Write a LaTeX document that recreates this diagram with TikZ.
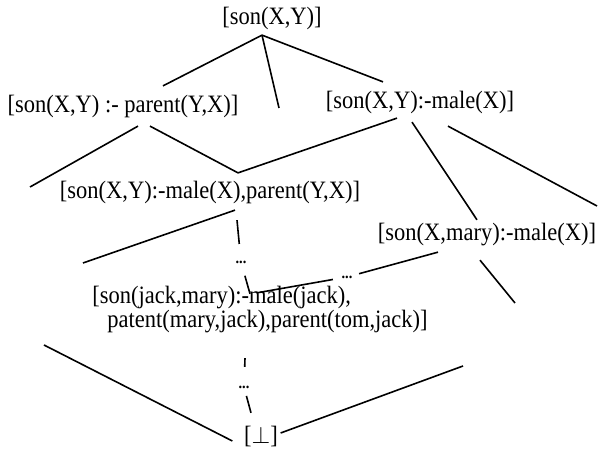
\documentclass[tikz,border=0pt]{standalone}
\usepackage{fontspec}
\setmainfont{Liberation Serif}[FakeStretch=0.9]
\usetikzlibrary{arrows}
\newcommand{\clauses}[1]{[#1]}

\begin{document}
\begin{tikzpicture}[x=0.5pt, y=-0.5pt, line width=0.8pt,
    term/.style={inner sep=1pt, font=\fontsize{12.5}{12}\selectfont},
    dots/.style={inner sep=1pt, font=\fontsize{8}{8}\selectfont\bfseries}]
      \useasboundingbox (0,0) rectangle (601,454);

      \node at (272,18) [term, name=top] {\clauses{son(X,Y)}};
      \node at (123,106) [term, name=lone] {\clauses{son(X,Y) :- parent(Y,X)}};
      \node at (420,102) [term, name=rone] {\clauses{son(X,Y):-male(X)}};
      \node at (210,192) [term, name=mid] {\clauses{son(X,Y):-male(X),parent(Y,X)}};
      \node at (487,235) [term, name=mary] {\clauses{son(X,mary):-male(X)}};
      \node at (260,310) [term, name=jack, align=left]
      {[son(jack,mary):-male(jack),\\\hspace{0.6em}patent(mary,jack),parent(tom,jack)]};
      \node at (261,437) [term, name=bot] {\clauses{$\bot$}};

      \node at (241,262) [dots, name=dotsa] {...};
      \node at (347,277) [dots, name=dotsb] {...};
      \node at (244,387) [dots, name=dotsc] {...};

      \coordinate (tm) at (279,108);
      \coordinate (ll) at (30,187);
      \coordinate (rr) at (597,206);
      \coordinate (ml) at (83,263);
      \coordinate (mr) at (515,303);
      \coordinate (bl) at (44,345);
      \coordinate (br) at (463,366);

      \draw ([xshift=-5pt,yshift=-1.5pt]top.south) -- ([xshift=20pt,yshift=3pt]lone.north);
      \draw ([xshift=-5pt,yshift=-1.5pt]top.south) -- (tm);
      \draw ([xshift=-5pt,yshift=-1.5pt]top.south) -- ([xshift=-18.5pt,yshift=3pt]rone.north);

      \draw ([xshift=7.5pt,yshift=-3pt]lone.south) -- (ll);
      \draw ([xshift=13.5pt,yshift=-3pt]lone.south) -- ([xshift=14pt,yshift=2.5pt]mid.north);
      \draw ([xshift=-11.5pt,yshift=-1pt]rone.south) -- ([xshift=14pt,yshift=2.5pt]mid.north);
      \draw ([xshift=-4pt,yshift=-3pt]rone.south) -- ([xshift=-5pt,yshift=0.5pt]mary.north);
      \draw ([xshift=14pt,yshift=-5pt]rone.south) -- (rr);

      \draw ([xshift=12.5pt,yshift=-2pt]mid.south) -- (ml);
      \draw [shorten >=7pt] ([xshift=13.5pt,yshift=-7pt]mid.south) -- (dotsa);
      \draw [shorten <=5pt] (dotsa) -- ([xshift=-5pt,yshift=-5pt]jack.north);
      \draw [shorten >=2pt] ([xshift=-24.5pt,yshift=-1.5pt]mary.south) -- (dotsb);
      \draw [shorten <=3pt] (dotsb) -- ([xshift=-1.5pt,yshift=-4.5pt]jack.north);
      \draw ([xshift=-3.5pt,yshift=-5.5pt]mary.south) -- (mr);

      \draw [shorten >=8pt] ([xshift=-7.5pt,yshift=-11pt]jack.south) -- (dotsc);
      \draw [shorten <=2.5pt] (dotsc) -- ([xshift=-5pt,yshift=5.5pt]bot.north);
      \draw (bl) -- ([xshift=-4.5pt,yshift=-2pt]bot.west);
      \draw ([yshift=2pt]bot.east) -- (br);
    \end{tikzpicture}
\end{document}
